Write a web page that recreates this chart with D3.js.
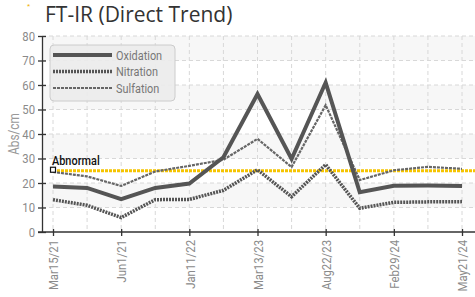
<!DOCTYPE html>
<meta charset="utf-8">
<html>
<head>
  <title>FT-IR (Direct Trend)</title>
  <script src="https://d3js.org/d3.v7.min.js"></script>
  <style>
    body { margin: 0; background: #fff; }
  </style>
</head>
<body>
<div id="chart"></div>
<script>

// sample dates: only every other sample is labelled on the axis
var sampleLabels = ["Mar15/21", "", "Jun1/21", "", "Jan11/22", "", "Mar13/23", "", "Aug22/23", "", "Feb29/24", "", "May21/24"];

var oxidation = [18.6, 18, 13.4, 18, 19.8, 30.5, 56.3, 29.8, 61, 16.2, 18.9, 19, 18.8];
var nitration = [13.2, 10.9, 5.9, 13.2, 13.3, 17, 25.4, 14.4, 27.5, 9.7, 12.1, 12.3, 12.4];
var sulfation = [24.5, 22.7, 18.8, 24.7, 27, 29.5, 38, 26.5, 51.8, 21.2, 25.2, 26.6, 25.8];

var abnormal = 25;
var yTicks = [0, 10, 20, 30, 40, 50, 60, 70, 80];

var width = 475, height = 297;
var narrow = "Roboto, 'Liberation Sans', sans-serif";
var squeeze = 0.84; // fake a condensed face

var svg = d3.select("#chart").append("svg")
  .attr("width", width)
  .attr("height", height);

var x = d3.scalePoint()
  .domain(d3.range(sampleLabels.length))
  .range([53, 462]);

var y = d3.scaleLinear()
  .domain([0, 80])
  .range([232, 36]);

var left = 42, right = 475;

// alternating bands
svg.append("g").selectAll("rect")
  .data(yTicks.slice(0, -1).filter(function(d) { return (d / 10) % 2 == 1; }))
  .enter().append("rect")
    .attr("x", left)
    .attr("width", right - left)
    .attr("y", function(d) { return y(d + 10); })
    .attr("height", function(d) { return y(d) - y(d + 10); })
    .attr("fill", "#f7f7f7");

// grid
svg.append("g").selectAll("line")
  .data(yTicks.slice(1))
  .enter().append("line")
    .attr("x1", left).attr("x2", right)
    .attr("y1", function(d) { return y(d); })
    .attr("y2", function(d) { return y(d); })
    .attr("stroke", "#d8d8d8")
    .attr("stroke-dasharray", "4,3");

svg.append("g").selectAll("line")
  .data(x.domain())
  .enter().append("line")
    .attr("x1", function(d) { return x(d); })
    .attr("x2", function(d) { return x(d); })
    .attr("y1", y(80)).attr("y2", y(0))
    .attr("stroke", "#d8d8d8")
    .attr("stroke-dasharray", "4,3");

// title
svg.append("text")
  .attr("x", 27).attr("y", 9)
  .attr("font-family", "sans-serif")
  .attr("font-size", 8)
  .attr("fill", "#f0b000")
  .text("*");

svg.append("text")
  .attr("x", 45).attr("y", 22)
  .attr("font-family", "'Open Sans', 'DejaVu Sans', sans-serif")
  .attr("font-size", 21)
  .attr("fill", "#333")
  .text("FT-IR (Direct Trend)");

// axes
var yAxis = svg.append("g")
  .attr("transform", "translate(" + left + ",0)")
  .call(d3.axisLeft(y).tickValues(yTicks).tickSizeInner(4).tickSizeOuter(0));
yAxis.selectAll(".tick line").attr("x2", 4).attr("x1", -4);
yAxis.selectAll(".tick text")
  .attr("transform", "scale(" + squeeze + ",1)")
  .attr("x", -7 / squeeze);

var xAxis = svg.append("g")
  .attr("transform", "translate(0," + y(0) + ")")
  .call(d3.axisBottom(x)
    .tickValues(x.domain().filter(function(d) { return sampleLabels[d] != ""; }))
    .tickFormat(function(d) { return sampleLabels[d]; })
    .tickSizeInner(4).tickSizeOuter(0));
xAxis.select(".domain").attr("d", "M" + (left - 4) + ",0H" + right);
xAxis.selectAll(".tick line").attr("y1", -3).attr("y2", 4);
xAxis.selectAll(".tick text")
  .attr("transform", "rotate(-90)scale(" + squeeze + ",1)")
  .attr("text-anchor", "end")
  .attr("x", -8 / squeeze).attr("y", 0).attr("dy", "0.35em");

svg.selectAll(".domain, .tick line").attr("stroke", "#333").attr("stroke-width", 1.3);
svg.selectAll(".tick text")
  .attr("font-family", narrow)
  .attr("font-size", 13.5)
  .attr("fill", "#8a8a8a");

svg.append("text")
  .attr("transform", "translate(19," + y(40) + ")rotate(-90)scale(" + squeeze + ",1)")
  .attr("text-anchor", "middle")
  .attr("font-family", narrow)
  .attr("font-size", 14)
  .attr("fill", "#999")
  .text("Abs/cm");

// abnormal limit
svg.append("line")
  .attr("x1", x(0)).attr("x2", right)
  .attr("y1", y(abnormal)).attr("y2", y(abnormal))
  .attr("stroke", "#f5c400")
  .attr("stroke-width", 3)
  .attr("stroke-dasharray", "3,1");

var series = [
  {name: "Oxidation", values: oxidation, width: 4, dash: null, color: "#555"},
  {name: "Nitration", values: nitration, width: 3.5, dash: "2,1", color: "#555"},
  {name: "Sulfation", values: sulfation, width: 2.2, dash: "3,1", color: "#666"}
];

var line = d3.line()
  .x(function(d, i) { return x(i); })
  .y(function(d) { return y(d); });

svg.append("g").selectAll("path")
  .data(series.slice().reverse())
  .enter().append("path")
    .attr("d", function(s) { return line(s.values); })
    .attr("fill", "none")
    .attr("stroke", function(s) { return s.color; })
    .attr("stroke-width", function(s) { return s.width; })
    .attr("stroke-dasharray", function(s) { return s.dash; })
    .attr("stroke-linejoin", "miter");

svg.append("rect")
  .attr("x", x(0) - 2.5).attr("y", y(abnormal) - 3.5)
  .attr("width", 5).attr("height", 5)
  .attr("fill", "#fff").attr("stroke", "#111").attr("stroke-width", 1.2);

svg.append("text")
  .attr("transform", "translate(" + (x(0) - 1) + "," + (y(abnormal) - 6) + ")scale(" + squeeze + ",1)")
  .attr("font-family", narrow)
  .attr("font-size", 13)
  .attr("font-weight", 500)
  .attr("fill", "#111")
  .text("Abnormal");

// legend
var legend = svg.append("g").attr("transform", "translate(50,45)");
legend.append("rect")
  .attr("width", 125).attr("height", 56)
  .attr("rx", 4)
  .attr("fill", "#ececec").attr("fill-opacity", 0.92)
  .attr("stroke", "#ccc");

var item = legend.selectAll(".item")
  .data(series)
  .enter().append("g")
    .attr("transform", function(d, i) { return "translate(0," + (10 + i * 16.5) + ")"; });
item.append("line")
  .attr("x1", 3).attr("x2", 62)
  .attr("stroke", function(s) { return s.color; })
  .attr("stroke-width", function(s) { return s.width; })
  .attr("stroke-dasharray", function(s) { return s.dash; });
item.append("text")
  .attr("transform", "translate(66,0)scale(" + squeeze + ",1)")
  .attr("dy", "0.35em")
  .attr("font-family", narrow)
  .attr("font-size", 13)
  .attr("fill", "#777")
  .text(function(s) { return s.name; });

</script>
</body>
</html>
